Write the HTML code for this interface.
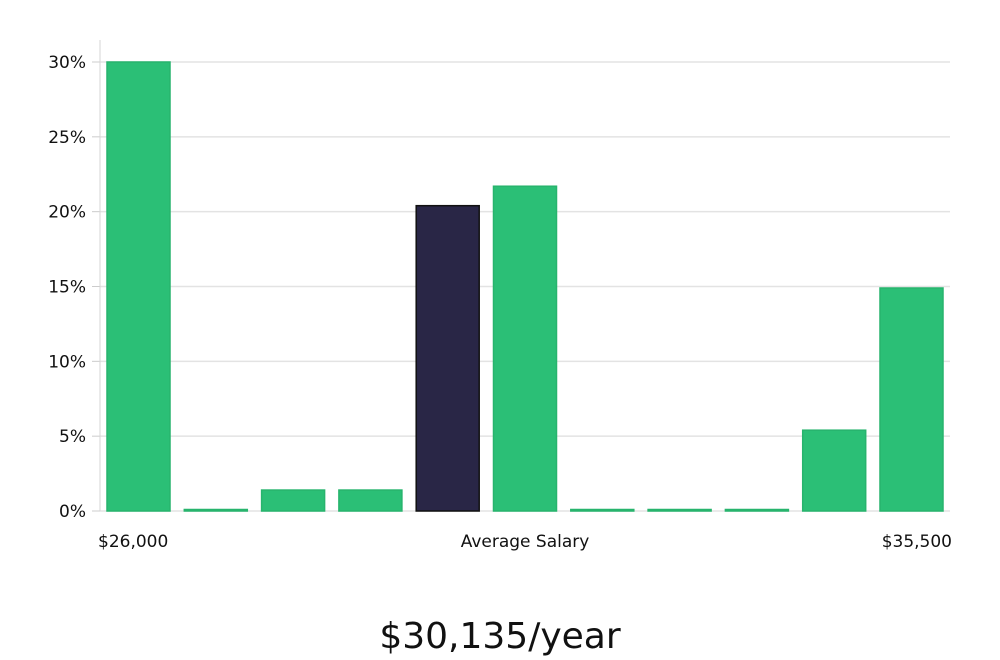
<!DOCTYPE html>
<html><head><meta charset="utf-8"><style>
body{margin:0;background:#fff;width:1000px;height:660px;overflow:hidden}
svg{display:block}
text{font-family:"DejaVu Sans","Liberation Sans",sans-serif;fill:#111}
</style></head><body>
<svg id="chart" width="1000" height="660" xmlns="http://www.w3.org/2000/svg"></svg>
<script>
const categories = ["b1","b2","b3","b4","b5","b6","b7","b8","b9","b10","b11"];
const values = [30, 0.1, 1.4, 1.4, 20.4, 21.7, 0.1, 0.1, 0.1, 5.4, 14.9];
const highlightIndex = 4;
const yTicks = [0,5,10,15,20,25,30];
const xLabels = ["$26,000","Average Salary","$35,500"];
const title = "$30,135/year";

const svg = document.getElementById('chart');
const NS = "http://www.w3.org/2000/svg";
const y0 = 511, yTop = 62, yMax = 30;
const y = v => y0 - v / yMax * (y0 - yTop);
const firstX = 107, slot = 77.3, bw = 63;
const x = i => firstX + i * slot;
function mk(tag, attrs){const e=document.createElementNS(NS,tag);for(const k in attrs)e.setAttribute(k,attrs[k]);svg.appendChild(e);return e;}

yTicks.forEach(t=>{
  const g = mk('line',{x1:100,x2:950,y1:y(t),y2:y(t),stroke:'#e3e3e3','stroke-width':1.5});
  
  
  const tk = mk('line',{x1:92,x2:100,y1:y(t),y2:y(t),stroke:'#ccc','stroke-width':1});
  
  
  const tx = mk('text',{x:86,y:y(t)+6,'text-anchor':'end','font-size':17});
  tx.textContent = t+'%';
  
  
});
const ax = mk('line',{x1:100,x2:100,y1:40,y2:511,stroke:'#d5d5d5','stroke-width':1});



values.forEach((v,i)=>{
  const hi = i===highlightIndex;
  const r = mk('rect',{x:x(i),y:y(v),width:bw,height:Math.max(1,y0-y(v)),
    fill: hi?'#292646':'#2bbf76', stroke: hi?'#111':'#27b46d','stroke-width':1.5});
  
  
});

const lx = [{x:98,a:'start'},{x:525,a:'middle'},{x:952,a:'end'}];
xLabels.forEach((l,i)=>{
  const t = mk('text',{x:lx[i].x,y:547,'text-anchor':lx[i].a,'font-size':17});
  t.textContent = l;
  
  
});
const tt = mk('text',{x:500,y:648,'text-anchor':'middle','font-size':36,'font-family':'Liberation Sans, sans-serif'});
tt.textContent = title;


</script>
</body></html>
